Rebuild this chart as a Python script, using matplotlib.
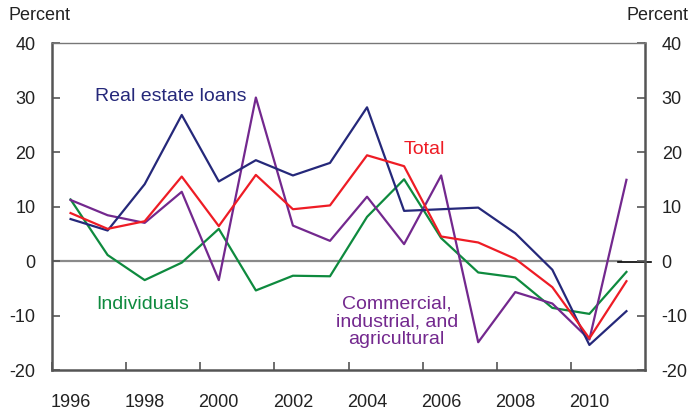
import matplotlib
matplotlib.use("Agg")
from matplotlib import pyplot as plt
from matplotlib import transforms

plt.rcParams['font.family'] = ['Liberation Sans', 'DejaVu Sans']
plt.rcParams['axes.unicode_minus'] = False

years = [1996.5, 1997.5, 1998.5, 1999.5, 2000.5, 2001.5, 2002.5, 2003.5,
         2004.5, 2005.5, 2006.5, 2007.5, 2008.5, 2009.5, 2010.5, 2011.5]

real_estate = [7.7, 5.6, 14.1, 26.8, 14.6, 18.5, 15.7, 18.0,
               28.2, 9.2, 9.5, 9.8, 5.1, -1.6, -15.4, -9.2]
total = [8.8, 5.9, 7.3, 15.5, 6.4, 15.8, 9.5, 10.2,
         19.4, 17.4, 4.5, 3.4, 0.4, -4.8, -14.2, -3.7]
individuals = [11.3, 1.1, -3.5, -0.3, 5.9, -5.4, -2.7, -2.8,
               8.1, 15.0, 4.2, -2.1, -3.0, -8.6, -9.7, -2.0]
commercial = [11.2, 8.4, 7.0, 12.7, -3.5, 30.0, 6.5, 3.7,
              11.8, 3.1, 15.7, -14.9, -5.7, -7.8, -14.4, 14.9]

x_ticks = [1996, 1998, 2000, 2002, 2004, 2006, 2008, 2010]
y_ticks = [-20, -10, 0, 10, 20, 30, 40]

navy = '#25287A'
red = '#EE1C25'
green = '#0E8A3E'
purple = '#73288E'

fig = plt.figure(figsize=(6.91, 4.12), dpi=100)
ax = fig.add_axes([0.0753, 0.1019, 0.8581, 0.7937])

# zero line, with the short dark stub at the right edge
ax.axhline(0, xmin=0, xmax=0.96, color='#8a8a8a', lw=1.6, zorder=1)
trans = transforms.blended_transform_factory(ax.transAxes, ax.transData)
ax.plot([0.955, 1.01], [-0.25, -0.25], transform=trans,
        color='black', lw=1.2, clip_on=False, zorder=1)

lw = 1.6
ax.plot(years, individuals, color=green, lw=lw, zorder=2)
ax.plot(years, commercial, color=purple, lw=lw, zorder=3)
ax.plot(years, real_estate, color=navy, lw=lw, zorder=4)
ax.plot(years, total, color=red, lw=lw, zorder=5)

ax.set_xlim(1996, 2012)
ax.set_ylim(-20, 40)
# tick marks at the year boundary, labels centred on the mid-year
ax.set_xticks(x_ticks)
ax.set_xticklabels([])
ax.set_xticks([y + 0.5 for y in x_ticks], minor=True)
ax.set_xticklabels([str(y) for y in x_ticks], minor=True)
ax.set_yticks(y_ticks)

ax.tick_params(axis='both', direction='in', length=6, width=1.2,
               color='#555555', labelsize=13, labelcolor='#222222')
ax.tick_params(axis='y', left=True, right=True, labelleft=True,
               labelright=True, pad=12)
ax.tick_params(axis='x', which='minor', length=0, pad=17,
               labelsize=13, labelcolor='#222222')

for side in ['left', 'bottom', 'right']:
    ax.spines[side].set_color('#555555')
    ax.spines[side].set_linewidth(1.8)
ax.spines['top'].set_color('#777777')
ax.spines['top'].set_linewidth(1.0)

ax.text(1997.15, 30.2, 'Real estate loans', color=navy, fontsize=14,
        ha='left', va='center')
ax.text(2006.05, 20.4, 'Total', color=red, fontsize=14, ha='center',
        va='center')
ax.text(1997.2, -7.9, 'Individuals', color=green, fontsize=14, ha='left',
        va='center')
ax.text(2005.3, -11.2, 'Commercial,\nindustrial, and\nagricultural',
        color=purple, fontsize=14, ha='center', va='center',
        linespacing=1.05)

fig.text(9 / 691, 1 - 15 / 412, 'Percent', fontsize=13, color='#222222',
         ha='left', va='center')
fig.text(688 / 691, 1 - 16 / 412, 'Percent', fontsize=13, color='#222222',
         ha='right', va='center')

fig.savefig('out.png', dpi=100)
